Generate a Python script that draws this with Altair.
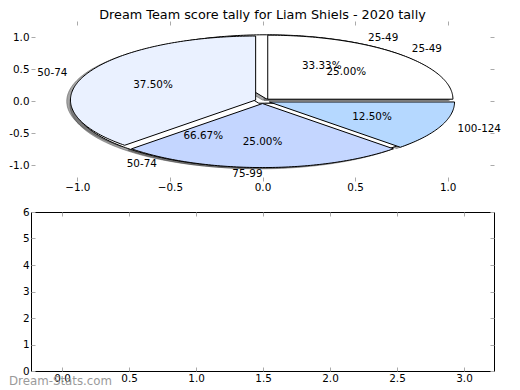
import numpy as np
import pandas as pd
import altair as alt

title_text = "Dream Team score tally for Liam Shiels - 2020 tally"
watermark = "Dream-Stats.com"

# main pie
labels1 = ["25-49", "50-74", "75-99", "100-124"]
counts1 = [2, 3, 2, 1]
colors1 = ["#ffffff", "#eaf1ff", "#c4d6ff", "#b5d8ff"]

# second pie (drawn underneath)
labels2 = ["25-49", "50-74"]
counts2 = [1, 2]
colors2 = ["#ffffff", "#ffffff"]

pie_ticks = [-1.0, -0.5, 0.0, 0.5, 1.0]
bottom_x_ticks = [0.0, 0.5, 1.0, 1.5, 2.0, 2.5, 3.0]
bottom_y_ticks = [0, 1, 2, 3, 4, 5, 6]
bottom_x_pos = [0, 1, 2, 3]
bottom_y_val = [0, 0, 0, 0]

EXPLODE = 0.04
LABEL_DIST = 1.1
PCT_DIST = 0.6
SHADOW_OFF = -0.02

W = 463
H1 = 160
H2 = 159
FONT = "DejaVu Sans"
FS = 10.4


def pie_geometry(pie_id, labels, counts, colors):
    total = float(sum(counts))
    polys, texts, wedges = [], [], []
    start = 0.0
    for k, (lab, c, col) in enumerate(zip(labels, counts, colors)):
        frac = c / total
        t1 = 360.0 * start
        t2 = 360.0 * (start + frac)
        start += frac
        mid = np.deg2rad((t1 + t2) / 2.0)
        cx = EXPLODE * np.cos(mid)
        cy = EXPLODE * np.sin(mid)
        n = max(int(abs(t2 - t1)), 2) + 1
        ang = np.deg2rad(np.linspace(t1, t2, n))
        xs = np.concatenate([[cx], cx + np.cos(ang), [cx]])
        ys = np.concatenate([[cy], cy + np.sin(ang), [cy]])
        wid = f"{pie_id}-{k}"
        wedges.append((wid, col))
        for i, (x, y) in enumerate(zip(xs, ys)):
            polys.append(dict(wid=wid, i=i, x=x, y=y,
                              sx=x + SHADOW_OFF, sy=y + SHADOW_OFF))
        lx = cx + LABEL_DIST * np.cos(mid)
        ly = cy + LABEL_DIST * np.sin(mid)
        texts.append(dict(text=lab, x=lx, y=ly,
                          align="left" if lx > 0 else "right"))
        px = cx + PCT_DIST * np.cos(mid)
        py = cy + PCT_DIST * np.sin(mid)
        texts.append(dict(text=f"{100.0 * frac:.2f}%", x=px, y=py,
                          align="center"))
    return polys, texts, wedges


p1, t1_, w1 = pie_geometry("a", labels1, counts1, colors1)
p2, t2_, w2 = pie_geometry("b", labels2, counts2, colors2)
poly_df = pd.DataFrame(p1 + p2)
text_df = pd.DataFrame(t1_ + t2_)

xscale = alt.Scale(domain=[-1.25, 1.25], nice=False, zero=False)
yscale = alt.Scale(domain=[-1.25, 1.25], nice=False, zero=False)


def make_axis(orient, values, fmt=None, labels=True, pad=2, label_expr=None):
    kw = dict(orient=orient, values=values, title=None, grid=False,
              domain=False, ticks=True, tickSize=4, offset=-4,
              tickColor="#aaaaaa", tickWidth=1, labels=labels)
    if labels:
        kw.update(labelFont=FONT, labelFontSize=FS, labelColor="black",
                  labelPadding=pad, labelFlush=False, labelOverlap=False)
    if fmt:
        kw["format"] = fmt
    if label_expr:
        kw["labelExpr"] = label_expr
    return alt.Axis(**kw)


base = alt.Chart(poly_df)
layers = []

# shadows (all below the wedges)
for wid, _ in w1 + w2:
    layers.append(
        base.transform_filter(alt.datum.wid == wid)
        .mark_line(fill="#4d4d4d", fillOpacity=0.5, stroke="#4d4d4d",
                   strokeOpacity=0.5, strokeWidth=1)
        .encode(x=alt.X("sx:Q", scale=xscale, axis=None),
                y=alt.Y("sy:Q", scale=yscale, axis=None),
                order="i:Q")
    )

# second pie, then main pie on top
for wid, col in w2 + w1:
    layers.append(
        base.transform_filter(alt.datum.wid == wid)
        .mark_line(fill=col, stroke="black", strokeWidth=1)
        .encode(x=alt.X("x:Q", scale=xscale, axis=None),
                y=alt.Y("y:Q", scale=yscale, axis=None),
                order="i:Q")
    )

tbase = alt.Chart(text_df)
for al in ["left", "right", "center"]:
    layers.append(
        tbase.transform_filter(alt.datum.align == al)
        .mark_text(align=al, baseline="middle", font=FONT, fontSize=FS,
                   color="black")
        .encode(x=alt.X("x:Q", scale=xscale, axis=None),
                y=alt.Y("y:Q", scale=yscale, axis=None),
                text="text:N")
    )

# axes for the pie panel
layers.append(
    tbase.mark_point(opacity=0).encode(
        x=alt.X("x:Q", scale=xscale,
                axis=make_axis("bottom", pie_ticks, ".1f", pad=1)),
        y=alt.Y("y:Q", scale=yscale,
                axis=make_axis("left", pie_ticks, ".1f", pad=2,
                               label_expr="replace(datum.label, '\u2212', '-')")),
    )
)
layers.append(
    tbase.mark_point(opacity=0).encode(
        x=alt.X("x:Q", scale=xscale,
                axis=make_axis("top", pie_ticks, labels=False)),
        y=alt.Y("y:Q", scale=yscale,
                axis=make_axis("right", pie_ticks, labels=False)),
    )
)

title_df = pd.DataFrame({"t": [title_text]})
layers.append(
    alt.Chart(title_df)
    .mark_text(align="center", baseline="alphabetic", font=FONT,
               fontSize=12.8, color="black")
    .encode(x=alt.value(W / 2), y=alt.value(-2.5), text="t:N")
)

top = (
    alt.layer(*layers)
    .resolve_axis(x="independent", y="independent")
    .properties(width=W, height=H1, view=alt.ViewBackground(stroke=None))
)

# bottom (empty) panel
bdf = pd.DataFrame({"x": bottom_x_pos, "y": bottom_y_val})
bx = alt.Scale(domain=[-0.232, 3.224], nice=False, zero=False)
by = alt.Scale(domain=[0, 6], nice=False, zero=False)
bb = alt.Chart(bdf)
b1 = bb.mark_point(opacity=0).encode(
    x=alt.X("x:Q", scale=bx, axis=make_axis("bottom", bottom_x_ticks, ".1f", pad=2)),
    y=alt.Y("y:Q", scale=by, axis=make_axis("left", bottom_y_ticks, "d", pad=2)),
)
b2 = bb.mark_point(opacity=0).encode(
    x=alt.X("x:Q", scale=bx, axis=make_axis("top", bottom_x_ticks, labels=False)),
    y=alt.Y("y:Q", scale=by, axis=make_axis("right", bottom_y_ticks, labels=False)),
)
wm = (
    alt.Chart(pd.DataFrame({"t": [watermark]}))
    .mark_text(align="left", baseline="alphabetic", font=FONT, fontSize=11.8,
               color="#9a9a9a")
    .encode(x=alt.value(-22), y=alt.value(H2 + 14), text="t:N")
)
bottom = (
    alt.layer(b1, b2, wm)
    .resolve_axis(x="independent", y="independent")
    .properties(width=W, height=H2,
                view=alt.ViewBackground(stroke="black", strokeWidth=1))
)

chart = alt.vconcat(top, bottom, spacing=13).properties(padding=0)
chart.save("out.html", embed_options={"renderer": "svg", "actions": False})
